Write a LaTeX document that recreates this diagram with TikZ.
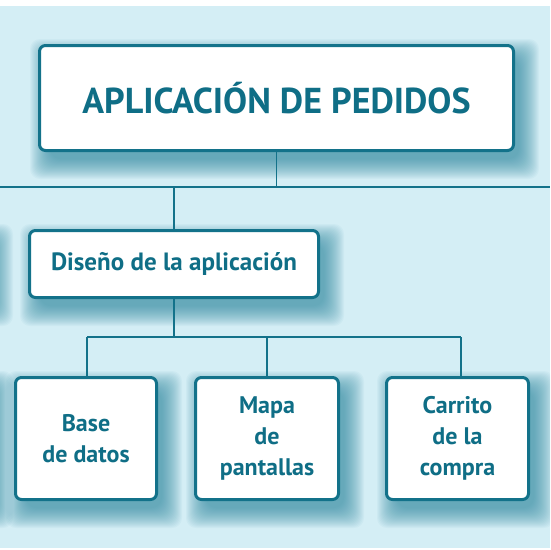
\documentclass[tikz,border=0pt]{standalone}
\usepackage{fontspec}
\setmainfont{PT Sans}
\definecolor{bgblue}{HTML}{D4EEF5}
\definecolor{tealline}{HTML}{13728A}
\definecolor{tealtext}{HTML}{0F6E86}
\definecolor{shadcol}{HTML}{2A879F}
\newcommand\boxshadow[4]{%
  \foreach \e in {16,15,...,-4}{%
    \fill[shadcol, opacity=0.045, rounded corners=10pt]
      ({#1+8-\e},{#2+11-\e}) rectangle ({#3+8+\e},{#4+11+\e});
  }%
}
\tikzset{
  box/.style={draw=tealline, line width=3pt, fill=white, rounded corners=6pt,
    text=tealtext, font=\bfseries, align=center, inner sep=0pt},
  conn/.style={draw=tealline, line width=1.5pt},
  leaf/.style={box, minimum height=122pt, font=\bfseries\fontsize{24}{31}\selectfont},
}
\begin{document}
\begin{tikzpicture}[x=1pt,y=-1pt]
\useasboundingbox (0,0) rectangle (550,550);
\fill[white] (0,0) rectangle (550,550);
\fill[bgblue] (0,6) rectangle (550,548);
\begin{scope}
\clip (0,6) rectangle (550,548);
% shadows
\boxshadow{38}{44}{515}{152}
\boxshadow{28}{229}{320}{299}
\boxshadow{-320}{229}{-11}{299}
\boxshadow{14}{376}{158}{501}
\boxshadow{194}{376}{340}{501}
\boxshadow{385}{376}{530}{501}
\boxshadow{-160}{376}{-11}{501}
% bus coordinates
\coordinate (busL) at (0,187);
\coordinate (busR) at (550,187);
\coordinate (sbusL) at (87,337);
\coordinate (sbusR) at (461,337);
% boxes
\node[box, minimum width=474pt, minimum height=105pt, font=\bfseries\fontsize{36}{40}\selectfont] (top) at (276.5,98) {APLICACIÓN DE PEDIDOS};
\node[box, minimum width=289pt, minimum height=67pt, font=\bfseries\fontsize{25}{29}\selectfont] (dis) at (174,264) {Diseño de la aplicación};
\node[leaf, minimum width=141pt] (base) at (86,438.5) {Base\\de datos};
\node[leaf, minimum width=143pt] (mapa) at (267,438.5) {Mapa\\de\\pantallas};
\node[leaf, minimum width=142pt] (carr) at (457.5,438.5) {Carrito\\de la\\compra};
% connectors
\draw[conn] (busL) -- (busR);
\draw[conn] (top.south) -- (top.south |- busL);
\draw[conn] (dis.north |- busL) -- (dis.north);
\draw[conn] (dis.south) -- (dis.south |- sbusL);
\draw[conn] (sbusL) -- (sbusR);
\draw[conn] (sbusL) -- (base.north -| sbusL);
\draw[conn] (mapa.north |- sbusL) -- (mapa.north);
\draw[conn] (sbusR) -- (carr.north -| sbusR);
\end{scope}
\end{tikzpicture}
\end{document}
